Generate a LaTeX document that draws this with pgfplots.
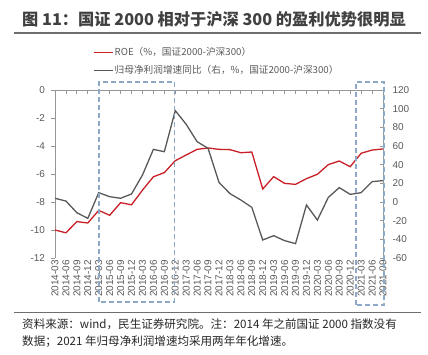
\documentclass[border=0pt]{standalone}
\usepackage{pgfplots}
\pgfplotsset{compat=1.18}
\usepackage{fontspec}
\setmainfont{Liberation Sans}
\newfontfamily\cjk{Noto Sans CJK SC}
\definecolor{roered}{RGB}{200,32,38}
\definecolor{npgray}{RGB}{88,88,88}
\definecolor{axgray}{RGB}{150,150,150}
\definecolor{txtgray}{RGB}{89,89,89}
\definecolor{boxblue}{RGB}{140,170,200}
\definecolor{rulegray}{RGB}{110,110,110}
\definecolor{titlegray}{RGB}{64,64,64}
\pgfplotstableread{
i roe np
0 -10.0 4
1 -10.2 1
2 -9.4 -11.5
3 -9.5 -17.5
4 -8.6 10
5 -8.95 5.7
6 -8.05 4
7 -8.2 8.6
8 -7.15 28.9
9 -6.2 56.4
10 -5.9 53.9
11 -5.05 97.9
12 -4.64 83.2
13 -4.24 64.6
14 -4.14 57.5
15 -4.24 21
16 -4.26 9
17 -4.48 2.1
18 -4.43 -5.7
19 -7.07 -40.7
20 -6.19 -36.1
21 -6.67 -41.4
22 -6.74 -44.6
23 -6.33 -3.2
24 -6.02 -19.3
25 -5.33 5
26 -5.07 15.4
27 -5.48 8.2
28 -4.52 10
29 -4.29 21.8
30 -4.21 22.9
}\datatable
\pgfplotsset{
  common/.style={
    at={(55bp,97bp)}, anchor=south west,
    scale only axis, width=328bp, height=168bp,
    xmin=0, xmax=30,
    axis line style={axgray, line width=0.8bp},
    tick style={axgray, line width=0.8bp},
    major tick length=3.5bp,
    /pgf/number format/assume math mode=true,
    ticklabel style={font=\fontsize{10}{12}\selectfont, text=txtgray},
  }
}
\begin{document}
\begin{tikzpicture}
\useasboundingbox (0,0) rectangle (428bp,355bp);
% title and rules
\node[anchor=west, inner sep=0pt, text=titlegray, font=\cjk\bfseries\fontsize{16.3}{18}\selectfont] at (22bp,336bp) {图 11：国证 2000 相对于沪深 300 的盈利优势很明显};
\draw[rulegray, line width=1.5bp] (14bp,322bp) -- (421bp,322bp);
\draw[rulegray, line width=1bp] (14bp,42bp) -- (421bp,42bp);
\node[anchor=west, inner sep=0pt, text=black!85, font=\cjk\fontsize{11.6}{14}\selectfont] at (22bp,31bp) {资料来源：wind，民生证券研究院。注：2014 年之前国证 2000 指数没有};
\node[anchor=west, inner sep=0pt, text=black!85, font=\cjk\fontsize{11.6}{14}\selectfont] at (22bp,13bp) {数据；2021 年归母净利润增速均采用两年年化增速。};
% left axis: ROE
\begin{axis}[common,
  ymin=-12, ymax=0, ytick={-12,-10,...,0},
  axis y line*=left, hide x axis,
  tick align=outside,
  yticklabel style={xshift=-3bp},
]
\addplot[roered, line width=1.3bp] table[x=i, y=roe] {\datatable};
\end{axis}
% top category axis line with ticks
\begin{axis}[common,
  ymin=-12, ymax=0,
  axis x line*=top, hide y axis,
  tick align=inside,
  xtick={0,...,30}, xticklabels={},
  major tick length=4bp,
]
\end{axis}
% right axis: net profit growth
\begin{axis}[common,
  ymin=-60, ymax=120, ytick={-60,-40,...,120},
  axis y line*=right, axis x line*=bottom,
  x axis line style={draw=none},
  tick align=inside,
  xtick={0,...,30},
  xtick style={draw=none},
  xticklabels={2014-03,2014-06,2014-09,2014-12,2015-03,2015-06,2015-09,2015-12,2016-03,2016-06,2016-09,2016-12,2017-03,2017-06,2017-09,2017-12,2018-03,2018-06,2018-09,2018-12,2019-03,2019-06,2019-09,2019-12,2020-03,2020-06,2020-09,2020-12,2021-03,2021-06,2021-09},
  xticklabel style={rotate=90, anchor=east, inner sep=2bp},
  yticklabel style={xshift=6bp},
  legend style={at={(0.115,1.264)}, anchor=north west, draw=none, fill=none,
    inner sep=0pt, row sep=5.5bp, cells={anchor=west},
    font=\cjk\fontsize{9.7}{11}\selectfont, text=txtgray,
    nodes={inner sep=1.5bp}},
  legend image code/.code={\draw[#1] (0bp,0bp) -- (19bp,0bp);},
]
\addlegendimage{roered, line width=1.3bp}
\addlegendentry{ROE（\%，国证2000-沪深300）}
\addplot[npgray, line width=1.3bp] table[x=i, y=np] {\datatable};
\addlegendentry{归母净利润增速同比（右，\%，国证2000-沪深300）}
\end{axis}
% annotation boxes
\draw[boxblue, line width=1.2bp, dash pattern=on 5bp off 3bp] (99bp,53bp) rectangle (174.5bp,273bp);
\draw[boxblue, line width=1.2bp, dash pattern=on 5bp off 3bp] (356bp,50bp) rectangle (384bp,273bp);
\end{tikzpicture}
\end{document}
